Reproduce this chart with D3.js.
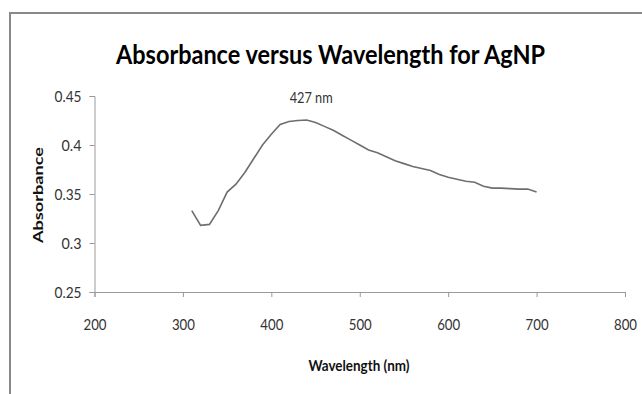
<!DOCTYPE html>
<html>
<head>
<meta charset="utf-8">
<script src="https://cdn.jsdelivr.net/npm/d3@7"></script>
<style>
  html, body { margin: 0; padding: 0; background: #fff; }
  svg { display: block; }
  text { font-family: Lato, "Open Sans", sans-serif; }
</style>
</head>
<body>
<svg id="chart" width="642" height="394"></svg>
<script>
// Data
var wavelength = [310, 320, 330, 340, 350, 360, 370, 380, 390, 400,
                  410, 420, 430, 440, 450, 460, 470, 480, 490, 500,
                  510, 520, 530, 540, 550, 560, 570, 580, 590, 600,
                  610, 620, 630, 640, 650, 660, 670, 680, 690, 700];
var absorbance = [0.333, 0.318, 0.319, 0.333, 0.352, 0.360, 0.372, 0.386, 0.400, 0.411,
                  0.421, 0.424, 0.425, 0.4255, 0.423, 0.419, 0.415, 0.410, 0.405, 0.400,
                  0.395, 0.392, 0.388, 0.384, 0.381, 0.378, 0.376, 0.374, 0.370, 0.367,
                  0.365, 0.363, 0.362, 0.358, 0.356, 0.356, 0.3555, 0.355, 0.355, 0.352];
var xTicks = [200, 300, 400, 500, 600, 700, 800];
var yTicks = [0.25, 0.3, 0.35, 0.4, 0.45];
var yTickLabels = ["0.25", "0.3", "0.35", "0.4", "0.45"];
var peakLabel = "427 nm";
var peakAt = 427;

var svg = d3.select("#chart");

// outer chart border (top and left edges visible)
svg.append("rect")
  .attr("x", 10).attr("y", 13)
  .attr("width", 700).attr("height", 500)
  .attr("fill", "none")
  .attr("stroke", "#888")
  .attr("stroke-width", 2);

var x = d3.scaleLinear().domain([200, 800]).range([94.5, 625]);
var y = d3.scaleLinear().domain([0.25, 0.45]).range([292, 96]);

// squeezed text helper, the source picture is narrow
function label(g, txt, len) {
  return g.append("text").text(txt)
    .attr("textLength", len)
    .attr("lengthAdjust", "spacingAndGlyphs");
}

// title
label(svg, "Absorbance versus Wavelength for AgNP", 429)
  .attr("x", 330.5).attr("y", 64)
  .attr("text-anchor", "middle")
  .attr("font-size", 27)
  .attr("font-weight", "bold")
  .attr("fill", "#000");

// x axis
var xAxis = svg.append("g")
  .attr("transform", "translate(0," + y(0.25) + ")")
  .call(d3.axisBottom(x).tickValues(xTicks).tickSize(5).tickFormat(""));
xAxis.selectAll("path, line").attr("stroke", "#9a9a9a");

xAxis.selectAll(".tick").each(function(d) {
  label(d3.select(this), String(d), 23)
    .attr("x", 0).attr("y", 38)
    .attr("text-anchor", "middle")
    .attr("font-size", 15)
    .attr("fill", "#333");
});

// y axis
var yAxis = svg.append("g")
  .attr("transform", "translate(" + x(200) + ",0)")
  .call(d3.axisLeft(y).tickValues(yTicks).tickSize(5).tickFormat(""));
yAxis.selectAll("path, line").attr("stroke", "#9a9a9a");

yAxis.selectAll(".tick").each(function(d, i) {
  var t = yTickLabels[i];
  label(d3.select(this), t, t.length == 4 ? 27 : 20)
    .attr("x", -13).attr("y", 0)
    .attr("dy", "0.35em")
    .attr("text-anchor", "end")
    .attr("font-size", 15)
    .attr("fill", "#333");
});

// axis titles
label(svg, "Wavelength (nm)", 101)
  .attr("x", 359).attr("y", 371)
  .attr("text-anchor", "middle")
  .attr("font-size", 15)
  .attr("font-weight", "bold")
  .attr("fill", "#111");

label(svg, "Absorbance", 96)
  .attr("transform", "translate(43,195) rotate(-90)")
  .attr("text-anchor", "middle")
  .attr("font-size", 14)
  .attr("font-weight", "bold")
  .attr("fill", "#111");

// spectrum
var pts = wavelength.map(function(w, i) { return [w, absorbance[i]]; });
var line = d3.line()
  .x(function(d) { return x(d[0]); })
  .y(function(d) { return y(d[1]); });

svg.append("path")
  .datum(pts)
  .attr("d", line)
  .attr("fill", "none")
  .attr("stroke", "#6e6e6e")
  .attr("stroke-width", 1.6);

// peak annotation
label(svg, peakLabel, 43)
  .attr("x", x(peakAt) + 16).attr("y", 103)
  .attr("text-anchor", "middle")
  .attr("font-size", 15)
  .attr("fill", "#333");
</script>
</body>
</html>
